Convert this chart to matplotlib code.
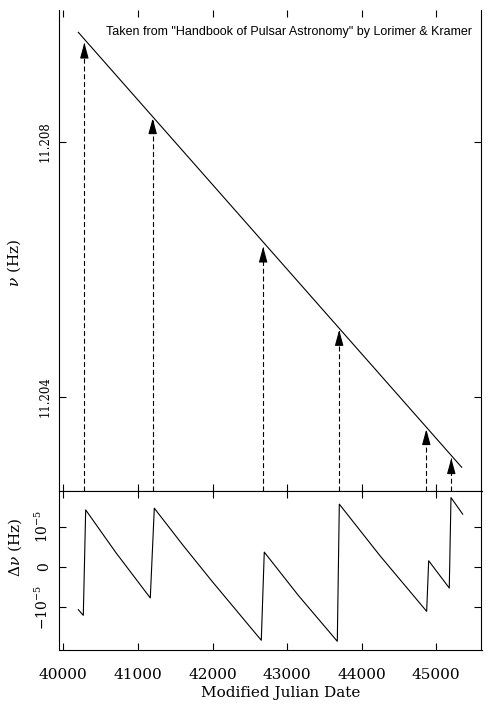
import matplotlib
matplotlib.use('Agg')
import matplotlib.pyplot as plt

plt.rcParams['font.family'] = 'DejaVu Serif'
plt.rcParams['mathtext.fontset'] = 'dejavuserif'

# --- data ------------------------------------------------------------------
# spin-down line in the top panel
line_mjd = [40201, 45340]
line_freq = [11.209716, 11.202893]

# glitch epochs and where the arrows stop
glitch_mjd = [40282, 41198, 42679, 43698, 44866, 45201]
arrow_top = [11.209553, 11.208367, 11.206353, 11.205046, 11.203489, 11.203034]

# frequency residual (Hz) in the bottom panel
res_mjd = [40201, 40268, 40300, 40700, 41166, 41220, 41600, 41993, 42350, 42654,
           42694, 43150, 43673, 43700, 44250, 44871, 44898, 45174, 45197, 45354]
res_dnu = [-1.054e-5, -1.195e-5, 1.415e-5, 0.37e-5, -0.765e-5, 1.457e-5, 0.55e-5,
           -0.35e-5, -1.14e-5, -1.812e-5, 0.370e-5, -0.70e-5, -1.837e-5, 1.556e-5,
           0.27e-5, -1.096e-5, 0.156e-5, -0.519e-5, 1.719e-5, 1.309e-5]

xticks = [40000, 41000, 42000, 43000, 44000, 45000]
top_yticks = [11.204, 11.208]
top_yticklabels = ['11.204', '11.208']
bot_yticks = [-1e-5, 0, 1e-5]
bot_yticklabels = [r'$-10^{-5}$', '0', r'$10^{-5}$']

W, H = 489, 709
fig = plt.figure(figsize=(W / 100, H / 100), dpi=100)
fig.patch.set_facecolor('white')

L, R = 59.5 / W, 481.5 / W
ax1 = fig.add_axes([L, 1 - 490.7 / H, R - L, (490.7 - 10) / H])
ax2 = fig.add_axes([L, 1 - 649.5 / H, R - L, (649.5 - 490.7) / H], sharex=ax1)

LW = 0.8
for ax in (ax1, ax2):
    for s in ax.spines.values():
        s.set_linewidth(LW)
    ax.tick_params(direction='in', top=True, right=True, length=5, width=LW)
ax1.spines['top'].set_visible(False)

# ── top panel ────────────────────────────────────────────────────────────────
ax1.plot(line_mjd, line_freq, color='black', lw=0.8)
ybot = 11.202525
for x, yt in zip(glitch_mjd, arrow_top):
    ax1.plot([x, x], [ybot, yt], color='black', lw=0.8, ls=(0, (4.5, 2.5)))
    ax1.annotate('', xy=(x, yt), xytext=(0, -9.5), textcoords='offset points',
                 arrowprops=dict(arrowstyle='-|>,head_length=0.95,head_width=0.26',
                                 mutation_scale=10, color='black', lw=0.8,
                                 shrinkA=0, shrinkB=0))
ax1.set_xlim(39949, 45606)
ax1.set_ylim(ybot, 11.210066)
ax1.set_yticks(top_yticks)
ax1.set_yticklabels(top_yticklabels, rotation=90, va='center', fontsize=8.5)
ax1.tick_params(axis='y', pad=6)
ax1.tick_params(axis='x', labelbottom=False)
ax1.text(0.9775, 0.954, 'Taken from "Handbook of Pulsar Astronomy" by Lorimer & Kramer',
         transform=ax1.transAxes, ha='right', va='center', fontsize=9,
         family='Liberation Sans')

# ── bottom panel ─────────────────────────────────────────────────────────────
ax2.plot(res_mjd, res_dnu, color='black', lw=0.8)
ax2.set_ylim(-2.04e-5, 1.89e-5)
ax2.set_yticks(bot_yticks)
ax2.set_yticklabels(bot_yticklabels, rotation=90, va='center', fontsize=10)
ax2.tick_params(axis='y', pad=6)
ax2.set_xticks(xticks)
ax2.set_xticklabels([str(t) for t in xticks], fontsize=11)
ax2.tick_params(axis='x', pad=13)

fig.text(281 / W, 1 - 692.7 / H, 'Modified Julian Date', ha='center', va='center',
         fontsize=11)
fig.text(14 / W, 1 - 263 / H, r'$\nu$ (Hz)', rotation=90, ha='center', va='center',
         fontsize=11)
fig.text(15 / W, 1 - 547 / H, r'$\Delta\nu$ (Hz)', rotation=90, ha='center',
         va='center', fontsize=11)

fig.savefig('out.png', dpi=100, facecolor='white')
